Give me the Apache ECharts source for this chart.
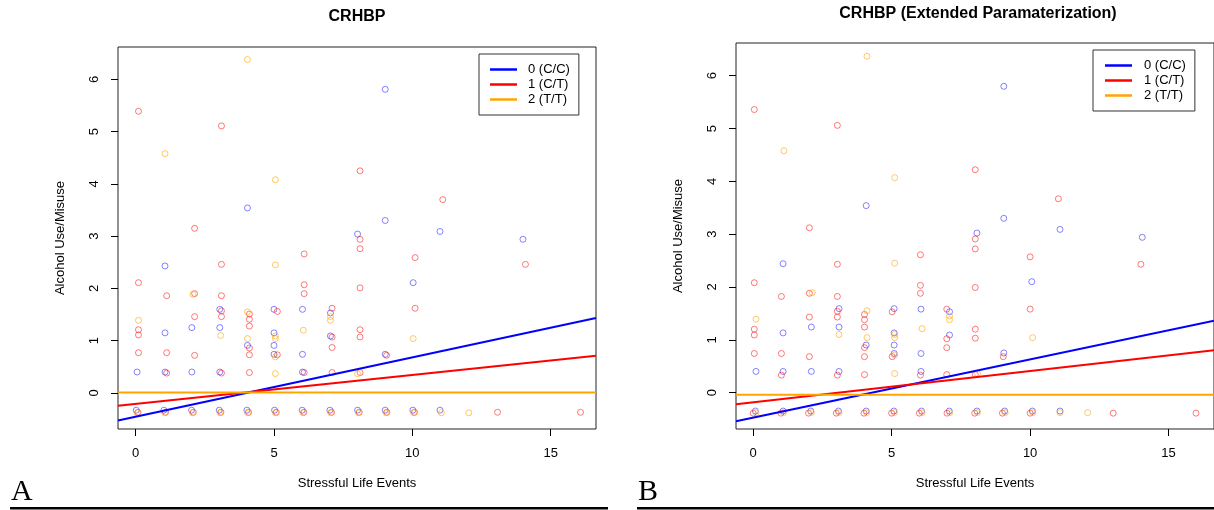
<!DOCTYPE html>
<html>
<head>
<meta charset="utf-8">
<title>CRHBP</title>
<script src="https://cdn.jsdelivr.net/npm/echarts@6/dist/echarts.min.js"></script>
<style>
html,body{margin:0;padding:0;background:#fff;}
#main{width:1214px;height:510px;}
</style>
</head>
<body>
<div id="main"></div>
<script>
//分组
var groupNames = ['0 (C/C)', '1 (C/T)', '2 (T/T)'];
var groupColors = ['#0000ff', '#ff0000', '#ffa500'];
var pointColors = ['rgba(0,0,255,0.6)', 'rgba(255,0,0,0.65)', 'rgba(255,165,0,0.75)'];
var xTicks = [0, 5, 10, 15];
var yTicks = [0, 1, 2, 3, 4, 5, 6];

//A图 点 [Stressful Life Events(抖动), Alcohol Use/Misuse]
var ptsA_CC = [[0.05,0.40],[1.06,2.43],[1.06,1.15],[1.06,0.40],[2.03,1.25],[2.03,0.40],[3.04,1.60],[3.04,1.25],[3.04,0.40],
	[4.04,3.54],[4.04,0.91],[5.00,1.60],[5.00,1.15],[5.00,0.91],[5.00,0.74],[6.03,1.60],[6.03,0.74],[6.03,0.40],
	[7.04,1.53],[7.04,1.09],[8.02,3.04],[9.02,5.81],[9.02,3.30],[9.02,0.74],[10.03,2.11],[11.00,3.09],[14.00,2.94],
	[0.02,-0.33],[1.02,-0.33],[2.02,-0.33],[3.02,-0.33],[4.02,-0.33],[5.02,-0.33],[6.02,-0.33],[7.02,-0.33],
	[8.02,-0.33],[9.02,-0.33],[10.02,-0.33],[11.00,-0.33]];
var ptsA_CT = [[0.10,5.39],[0.10,2.11],[0.10,1.21],[0.10,1.11],[0.10,0.77],[1.12,1.86],[1.12,0.77],[1.12,0.38],
	[2.13,3.15],[2.13,1.90],[2.13,1.46],[2.13,0.72],[3.10,5.11],[3.10,2.46],[3.10,1.86],[3.10,1.57],[3.10,1.46],[3.10,0.38],
	[4.11,1.51],[4.11,1.41],[4.11,1.28],[4.11,0.86],[4.11,0.73],[4.11,0.39],[5.12,1.56],[5.12,0.73],
	[6.09,2.66],[6.09,2.07],[6.09,1.90],[6.09,0.39],[7.10,1.62],[7.10,1.07],[7.10,0.87],[7.10,0.39],
	[8.11,4.25],[8.11,2.94],[8.11,2.76],[8.11,2.01],[8.11,1.21],[8.11,1.07],[8.11,0.39],[9.07,0.72],
	[10.10,2.59],[10.10,1.62],[11.10,3.70],[14.09,2.46],
	[0.08,-0.37],[1.08,-0.37],[2.08,-0.37],[3.08,-0.37],[4.08,-0.37],[5.08,-0.37],[6.08,-0.37],[7.08,-0.37],
	[8.08,-0.37],[9.08,-0.37],[10.08,-0.37],[13.08,-0.37],[16.08,-0.37]];
var ptsA_TT = [[0.10,1.39],[1.06,4.58],[2.07,1.89],[3.07,1.10],[4.04,6.38],[4.04,1.55],[4.04,1.04],[5.05,4.08],[5.05,2.45],
	[5.05,1.09],[5.05,1.04],[5.05,0.69],[5.05,0.37],[6.06,1.20],[7.04,1.46],[7.04,1.39],[8.02,0.37],[10.03,1.04],
	[0.05,-0.38],[1.05,-0.38],[2.05,-0.38],[3.05,-0.38],[4.05,-0.38],[5.05,-0.38],[6.05,-0.38],[7.05,-0.38],
	[8.05,-0.38],[9.05,-0.38],[10.05,-0.38],[11.05,-0.38],[12.04,-0.38]];

//B图 点
var ptsB_CC = [[0.10,0.40],[1.08,2.44],[1.08,1.13],[1.08,0.40],[2.10,1.24],[2.10,0.40],[3.10,1.59],[3.10,1.24],[3.10,0.40],
	[4.08,3.54],[4.08,0.90],[5.09,1.59],[5.09,1.13],[5.09,0.90],[5.09,0.74],[6.06,1.58],[6.06,0.74],[6.06,0.40],
	[7.09,1.53],[7.09,1.09],[8.08,3.02],[9.05,5.80],[9.05,3.30],[9.05,0.75],[10.06,2.10],[11.08,3.09],[14.05,2.94],
	[0.08,-0.35],[1.08,-0.35],[2.08,-0.35],[3.08,-0.35],[4.08,-0.35],[5.08,-0.35],[6.08,-0.35],[7.08,-0.35],
	[8.08,-0.35],[9.08,-0.35],[10.08,-0.35],[11.08,-0.35]];
var ptsB_CT = [[0.04,5.36],[0.04,2.08],[0.04,1.20],[0.04,1.09],[0.04,0.74],[1.02,1.82],[1.02,0.74],[1.02,0.33],
	[2.03,3.12],[2.03,1.88],[2.03,1.43],[2.03,0.68],[3.04,5.06],[3.04,2.43],[3.04,1.82],[3.04,1.54],[3.04,1.43],[3.04,0.33],
	[4.02,1.48],[4.02,1.38],[4.02,1.24],[4.02,0.85],[4.02,0.68],[4.02,0.34],[5.02,1.53],[5.02,0.68],
	[6.04,2.61],[6.04,2.03],[6.04,1.88],[6.04,0.33],[6.99,1.58],[6.99,1.02],[6.99,0.85],[6.99,0.34],
	[8.02,4.22],[8.02,2.91],[8.02,2.72],[8.02,1.99],[8.02,1.20],[8.02,1.03],[8.02,0.34],[9.03,0.68],
	[10.00,2.57],[10.00,1.58],[11.02,3.67],[14.00,2.43],
	[0.00,-0.39],[1.00,-0.39],[2.00,-0.39],[3.00,-0.39],[4.00,-0.39],[5.00,-0.39],[6.00,-0.39],[7.00,-0.39],
	[8.00,-0.39],[9.00,-0.39],[10.00,-0.39],[13.00,-0.39],[15.99,-0.39]];
var ptsB_TT = [[0.10,1.39],[1.11,4.58],[2.13,1.89],[3.10,1.10],[4.11,6.37],[4.11,1.55],[4.11,1.04],[5.11,4.07],[5.11,2.45],
	[5.11,1.10],[5.11,1.04],[5.11,0.71],[5.11,0.36],[6.10,1.21],[7.09,1.45],[7.09,1.38],[8.10,0.36],[10.09,1.04],
	[0.10,-0.38],[1.10,-0.38],[2.10,-0.38],[3.10,-0.38],[4.10,-0.38],[5.10,-0.38],[6.10,-0.38],[7.10,-0.38],
	[8.10,-0.38],[9.10,-0.38],[10.10,-0.38],[11.08,-0.38],[12.08,-0.38]];

//回归线 截距/斜率
var interceptA = [-0.456, -0.211, 0.01];
var slopeA = [0.1136, 0.0555, 0];
var interceptB = [-0.475, -0.185, -0.04];
var slopeB = [0.1103, 0.0593, 0];

var font = 'Liberation Sans, Arial, sans-serif';
var xRange = [[-0.64, 16.64], [-0.62, 16.64]];
var yRange = [-0.69, 6.62];

function xAxisOpt(idx){
	return {
		type: 'value', gridIndex: idx, min: xRange[idx][0], max: xRange[idx][1],
		name: 'Stressful Life Events', nameLocation: 'middle', nameGap: 48,
		nameTextStyle: {color: '#000', fontFamily: font, fontSize: 13},
		axisLine: {show: false, onZero: false},
		axisTick: {show: true, length: 7, customValues: xTicks, lineStyle: {color: '#000'}},
		axisLabel: {customValues: xTicks, margin: 18, color: '#000', fontFamily: font, fontSize: 13},
		splitLine: {show: false}
	};
}
function yAxisOpt(idx){
	return {
		type: 'value', gridIndex: idx, min: yRange[0], max: yRange[1],
		name: 'Alcohol Use/Misuse', nameLocation: 'middle', nameGap: 51,
		nameTextStyle: {color: '#000', fontFamily: font, fontSize: 13},
		axisLine: {show: false, onZero: false},
		axisTick: {show: true, length: 7, customValues: yTicks, lineStyle: {color: '#000'}},
		axisLabel: {customValues: yTicks, rotate: 90, margin: 17, color: '#000', fontFamily: font, fontSize: 13},
		splitLine: {show: false}
	};
}

var series = [];
function addPanel(idx, pts, intercept, slope){
	for(var g=0; g<3; g++){
		series.push({
			name: 'pts' + idx + '_' + g,
			type: 'scatter', xAxisIndex: idx, yAxisIndex: idx,
			symbol: 'circle', symbolSize: 6,
			itemStyle: {color: 'rgba(0,0,0,0)', borderColor: pointColors[g], borderWidth: 1},
			data: pts[g], z: 2, silent: true
		});
	}
	for(var g=0; g<3; g++){
		var x0 = xRange[idx][0], x1 = xRange[idx][1];
		series.push({
			name: groupNames[g],
			type: 'line', xAxisIndex: idx, yAxisIndex: idx,
			showSymbol: false, symbol: 'none',
			lineStyle: {color: groupColors[g], width: 2},
			itemStyle: {color: groupColors[g]},
			data: [[x0, intercept[g] + slope[g]*x0], [x1, intercept[g] + slope[g]*x1]],
			z: 3, silent: true, animation: false
		});
	}
}
addPanel(0, [ptsA_CC, ptsA_CT, ptsA_TT], interceptA, slopeA);
addPanel(1, [ptsB_CC, ptsB_CT, ptsB_TT], interceptB, slopeB);

function legendOpt(left, top, padding, textPad){
	return {
		data: groupNames, orient: 'vertical', left: left, top: top,
		icon: 'rect', itemWidth: 27, itemHeight: 2.5, itemGap: 0,
		padding: padding, borderColor: '#333', borderWidth: 1, backgroundColor: '#fff',
		selectedMode: false,
		textStyle: {color: '#000', fontFamily: font, fontSize: 13, lineHeight: 15, padding: [0,0,0,textPad]}
	};
}

var chart = echarts.init(document.getElementById('main'));
var option = {
	animation: false,
	backgroundColor: '#fff',
	grid: [
		{left: 118, top: 47, width: 478, height: 382, show: true, borderColor: '#222', borderWidth: 1, backgroundColor: 'transparent'},
		{left: 736, top: 43, width: 483, height: 386, show: true, borderColor: '#222', borderWidth: 1, backgroundColor: 'transparent'}
	],
	xAxis: [xAxisOpt(0), xAxisOpt(1)],
	yAxis: [yAxisOpt(0), yAxisOpt(1)],
	legend: [
		legendOpt(479, 54, [8, 9, 8, 11], 6),
		legendOpt(1093, 50, [8, 9, 8, 12], 7)
	],
	graphic: [
		{type: 'text', style: {text: 'CRHBP', font: 'bold 16px ' + font, fill: '#000', x: 357, y: 17, textAlign: 'center', textVerticalAlign: 'middle'}},
		{type: 'text', style: {text: 'CRHBP (Extended Paramaterization)', font: 'bold 16px ' + font, fill: '#000', x: 978, y: 14, textAlign: 'center', textVerticalAlign: 'middle'}},
		{type: 'text', style: {text: 'A', font: '30px Liberation Serif, Times New Roman, serif', fill: '#000', x: 11, y: 507, textVerticalAlign: 'bottom'}},
		{type: 'text', style: {text: 'B', font: '30px Liberation Serif, Times New Roman, serif', fill: '#000', x: 638, y: 507, textVerticalAlign: 'bottom'}},
		{type: 'rect', shape: {x: 10, y: 507, width: 598, height: 2.5}, style: {fill: '#000'}},
		{type: 'rect', shape: {x: 637, y: 507, width: 577, height: 2.5}, style: {fill: '#000'}}
	],
	series: series
};
chart.setOption(option);
</script>
</body>
</html>
